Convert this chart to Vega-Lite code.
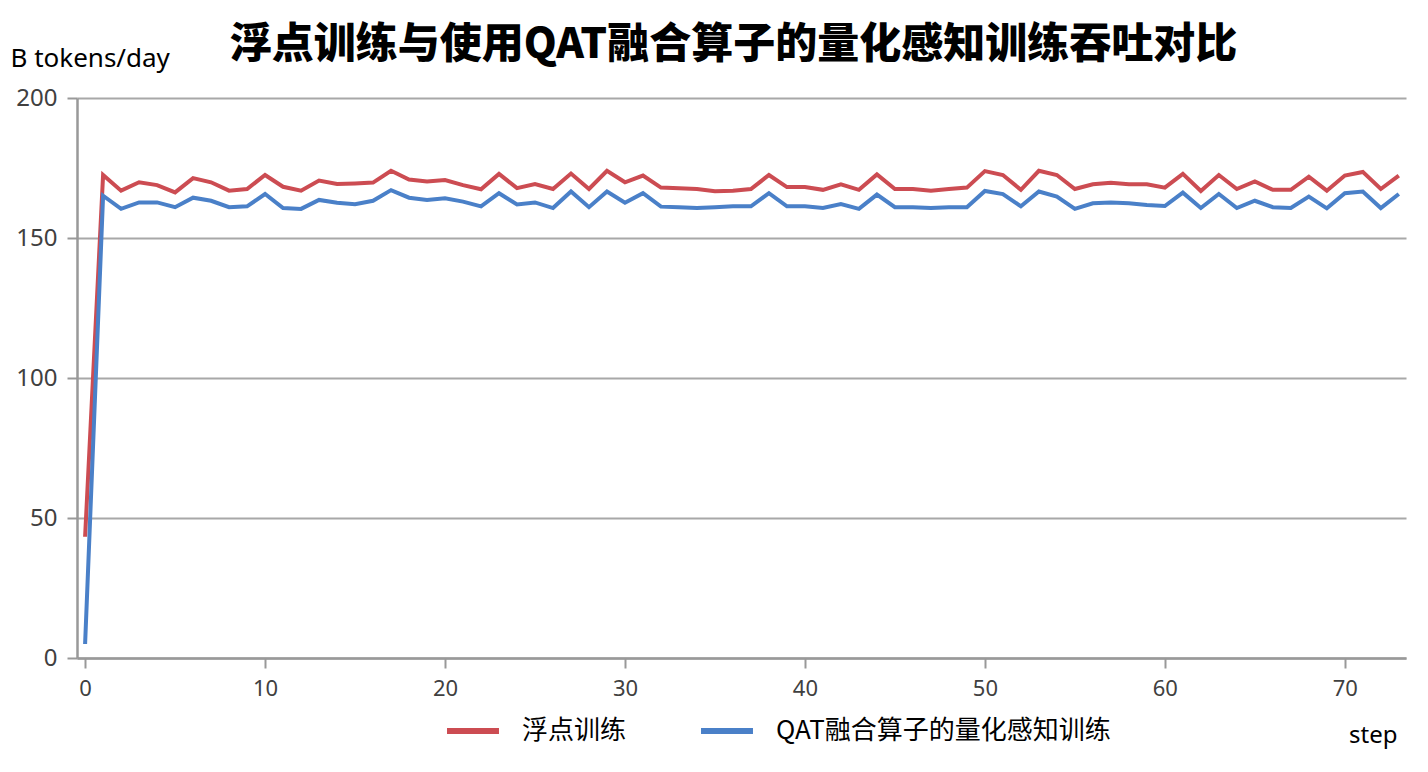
{
  "$schema": "https://vega.github.io/schema/vega-lite/v6.json",
  "autosize": {"type": "none"},
  "width": 1329,
  "height": 560,
  "padding": {"left": 77, "top": 98, "right": 22, "bottom": 114},
  "background": "white",
  "title": {
    "text": "浮点训练与使用QAT融合算子的量化感知训练吞吐对比",
    "font": "Noto Sans CJK SC",
    "fontSize": 42,
    "fontWeight": 900,
    "color": "#000000",
    "anchor": "middle",
    "dx": -8,
    "dy": 52,
    "offset": 30
  },
  "data": {
    "values": [
      {"step": 0, "float": 43.3, "qat": 5.0},
      {"step": 1, "float": 172.5, "qat": 165.1},
      {"step": 2, "float": 166.9, "qat": 160.4},
      {"step": 3, "float": 169.9, "qat": 162.7},
      {"step": 4, "float": 168.9, "qat": 162.7},
      {"step": 5, "float": 166.3, "qat": 161.0},
      {"step": 6, "float": 171.4, "qat": 164.4},
      {"step": 7, "float": 169.9, "qat": 163.3},
      {"step": 8, "float": 166.9, "qat": 161.0},
      {"step": 9, "float": 167.5, "qat": 161.3},
      {"step": 10, "float": 172.5, "qat": 165.7},
      {"step": 11, "float": 168.3, "qat": 160.7},
      {"step": 12, "float": 166.9, "qat": 160.4},
      {"step": 13, "float": 170.5, "qat": 163.6},
      {"step": 14, "float": 169.3, "qat": 162.6},
      {"step": 15, "float": 169.5, "qat": 162.1},
      {"step": 16, "float": 169.8, "qat": 163.3},
      {"step": 17, "float": 174.0, "qat": 167.1},
      {"step": 18, "float": 170.9, "qat": 164.4},
      {"step": 19, "float": 170.2, "qat": 163.6},
      {"step": 20, "float": 170.7, "qat": 164.2},
      {"step": 21, "float": 168.9, "qat": 163.0},
      {"step": 22, "float": 167.4, "qat": 161.3},
      {"step": 23, "float": 172.9, "qat": 166.0},
      {"step": 24, "float": 167.8, "qat": 162.0},
      {"step": 25, "float": 169.3, "qat": 162.7},
      {"step": 26, "float": 167.5, "qat": 160.7},
      {"step": 27, "float": 173.0, "qat": 166.6},
      {"step": 28, "float": 167.5, "qat": 161.0},
      {"step": 29, "float": 174.0, "qat": 166.6},
      {"step": 30, "float": 169.9, "qat": 162.6},
      {"step": 31, "float": 172.3, "qat": 166.0},
      {"step": 32, "float": 168.0, "qat": 161.2},
      {"step": 33, "float": 167.8, "qat": 161.0},
      {"step": 34, "float": 167.5, "qat": 160.7},
      {"step": 35, "float": 166.7, "qat": 161.0},
      {"step": 36, "float": 166.9, "qat": 161.3},
      {"step": 37, "float": 167.5, "qat": 161.3},
      {"step": 38, "float": 172.5, "qat": 166.0},
      {"step": 39, "float": 168.2, "qat": 161.3},
      {"step": 40, "float": 168.2, "qat": 161.3},
      {"step": 41, "float": 167.2, "qat": 160.7},
      {"step": 42, "float": 169.2, "qat": 162.1},
      {"step": 43, "float": 167.2, "qat": 160.4},
      {"step": 44, "float": 172.7, "qat": 165.5},
      {"step": 45, "float": 167.5, "qat": 161.0},
      {"step": 46, "float": 167.5, "qat": 161.0},
      {"step": 47, "float": 166.9, "qat": 160.7},
      {"step": 48, "float": 167.5, "qat": 161.0},
      {"step": 49, "float": 168.0, "qat": 161.0},
      {"step": 50, "float": 173.9, "qat": 166.8},
      {"step": 51, "float": 172.5, "qat": 165.7},
      {"step": 52, "float": 167.2, "qat": 161.3},
      {"step": 53, "float": 174.0, "qat": 166.6},
      {"step": 54, "float": 172.5, "qat": 164.8},
      {"step": 55, "float": 167.5, "qat": 160.4},
      {"step": 56, "float": 169.2, "qat": 162.4},
      {"step": 57, "float": 169.7, "qat": 162.7},
      {"step": 58, "float": 169.2, "qat": 162.4},
      {"step": 59, "float": 169.2, "qat": 161.8},
      {"step": 60, "float": 168.0, "qat": 161.4},
      {"step": 61, "float": 172.9, "qat": 166.2},
      {"step": 62, "float": 166.8, "qat": 160.7},
      {"step": 63, "float": 172.5, "qat": 165.7},
      {"step": 64, "float": 167.5, "qat": 160.7},
      {"step": 65, "float": 170.2, "qat": 163.3},
      {"step": 66, "float": 167.2, "qat": 161.0},
      {"step": 67, "float": 167.2, "qat": 160.7},
      {"step": 68, "float": 171.9, "qat": 164.8},
      {"step": 69, "float": 166.9, "qat": 160.6},
      {"step": 70, "float": 172.3, "qat": 166.0},
      {"step": 71, "float": 173.6, "qat": 166.6},
      {"step": 72, "float": 167.5, "qat": 160.7},
      {"step": 73, "float": 172.3, "qat": 165.7}
    ]
  },
  "transform": [
    {"fold": ["float", "qat"], "as": ["series", "value"]}
  ],
  "mark": {"type": "line", "strokeWidth": 4, "clip": true},
  "encoding": {
    "x": {
      "field": "step",
      "type": "quantitative",
      "scale": {"domain": [-0.45, 73.4], "nice": false, "zero": false},
      "axis": {
        "values": [0, 10, 20, 30, 40, 50, 60, 70],
        "grid": false,
        "title": "step",
        "titleAngle": 0,
        "titleX": 1320,
        "titleY": 84,
        "titleAlign": "right",
        "titleBaseline": "alphabetic",
        "titleFont": "Noto Sans",
        "titleFontSize": 24,
        "titleFontWeight": "normal",
        "titleColor": "#000000",
        "labelPadding": 10
      }
    },
    "y": {
      "field": "value",
      "type": "quantitative",
      "scale": {"domain": [0, 200], "nice": false},
      "axis": {
        "values": [0, 50, 100, 150, 200],
        "title": "B tokens/day",
        "titleAngle": 0,
        "titleX": -67,
        "titleY": -32,
        "titleAlign": "left",
        "titleBaseline": "alphabetic",
        "titleFont": "Noto Sans",
        "titleFontSize": 26,
        "titleFontWeight": "normal",
        "titleColor": "#000000",
        "labelPadding": 10,
        "labelFontSize": 24
      }
    },
    "color": {
      "field": "series",
      "type": "nominal",
      "scale": {"domain": ["float", "qat"], "range": ["#cc4c52", "#4a80c8"]},
      "legend": {
        "title": null,
        "orient": "none",
        "direction": "horizontal",
        "legendX": 367,
        "legendY": 604,
        "symbolType": "stroke",
        "symbolSize": 2700,
        "symbolStrokeWidth": 6,
        "labelOffset": 20,
        "columnPadding": 62,
        "labelFont": "Noto Sans CJK SC",
        "labelFontSize": 26,
        "labelColor": "#000000",
        "labelExpr": "datum.label == 'float' ? '浮点训练' : 'QAT融合算子的量化感知训练'",
        "labelLimit": 500
      }
    }
  },
  "config": {
    "view": {"stroke": null},
    "axis": {
      "domainColor": "#999999",
      "domainWidth": 2.5,
      "tickColor": "#999999",
      "tickWidth": 2,
      "tickSize": 10,
      "gridColor": "#a8a8a8",
      "gridWidth": 2,
      "labelFont": "Noto Sans",
      "labelFontSize": 22,
      "labelColor": "#404040"
    }
  }
}
